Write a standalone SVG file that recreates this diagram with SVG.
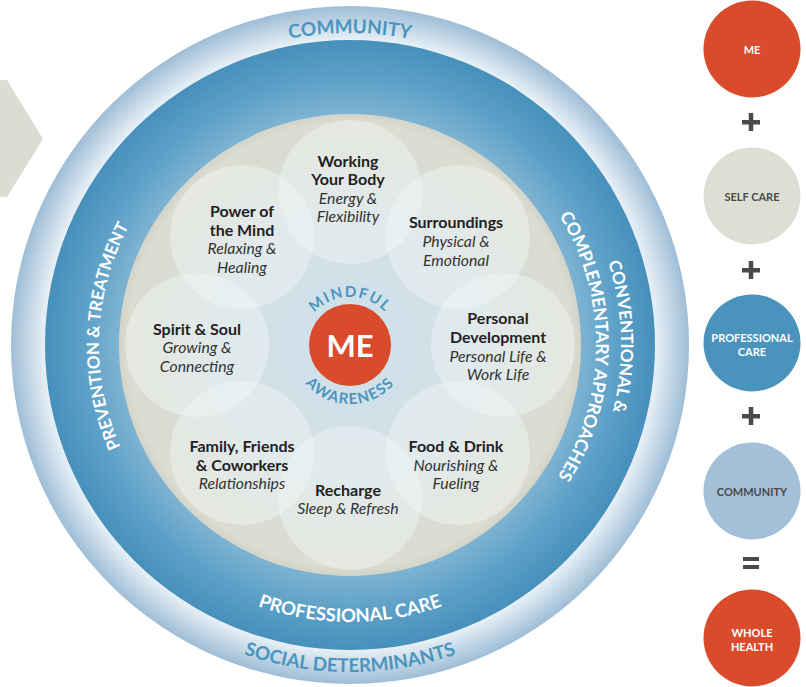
<svg xmlns="http://www.w3.org/2000/svg" width="806" height="687" viewBox="0 0 806 687">
<style>
  .t { font-family: Lato, "Noto Sans", "Liberation Sans", sans-serif; }
  .ttl { font-family: Lato, "Noto Sans", "Liberation Sans", sans-serif; font-weight: 700; font-size: 16px; fill: #222; text-anchor: middle; }
  .sub { font-family: Lato, "Noto Sans", "Liberation Sans", sans-serif; font-style: italic; font-size: 15.8px; fill: #333; text-anchor: middle; }
  .bub { fill: #f4f8f9; fill-opacity: 0.42; }
  .ringW { font-family: Lato, "Noto Sans", "Liberation Sans", sans-serif; font-weight: 700; fill: #ffffff; }
  .ringB { font-family: Lato, "Noto Sans", "Liberation Sans", sans-serif; font-weight: 700; fill: #4a95bf; }
  .side { font-family: Lato, "Noto Sans", "Liberation Sans", sans-serif; font-weight: 700; font-size: 11px; text-anchor: middle; }
  .op { fill: #4a4a4a; }
</style>
<defs>
  <radialGradient id="gOuter" gradientUnits="userSpaceOnUse" cx="350" cy="345" r="339">
    <stop offset="0.9" stop-color="#e8f0f6"/>
    <stop offset="1" stop-color="#9ebdd6"/>
  </radialGradient>
  <radialGradient id="gDark" gradientUnits="userSpaceOnUse" cx="350" cy="345" r="305">
    <stop offset="0.757" stop-color="#7db3d2"/>
    <stop offset="0.87" stop-color="#5ea1c8"/>
    <stop offset="1" stop-color="#4690bb"/>
  </radialGradient>
  <radialGradient id="gBeige" gradientUnits="userSpaceOnUse" cx="350" cy="345" r="231">
    <stop offset="0" stop-color="#cfe1eb"/>
    <stop offset="0.5" stop-color="#d3e0e6"/>
    <stop offset="0.85" stop-color="#d9dcd3"/>
    <stop offset="0.96" stop-color="#dcdcd0"/>
    <stop offset="1" stop-color="#d3d4c9"/>
  </radialGradient>
  <path id="pCommunity" d="M 38,345 A 312,312 0 0 1 662,345 A 312,312 0 0 1 38,345"/>
  <path id="pSocial" d="M 23,345 A 327,327 0 0 0 677,345"/>
  <path id="pProf" d="M 73,345 A 277,277 0 0 0 627,345"/>
  <path id="pPrev" d="M 350,596 A 251,251 0 0 1 350,94 A 251,251 0 0 1 350,596"/>
  <path id="pConv" d="M 79,345 A 271,271 0 0 1 621,345 A 271,271 0 0 1 79,345"/>
  <path id="pComp" d="M 104,345 A 246,246 0 0 1 596,345 A 246,246 0 0 1 104,345"/>
  <path id="pMind" d="M 302,345 A 48,48 0 0 1 398,345"/>
  <path id="pAware" d="M 291,345 A 59,59 0 0 0 409,345"/>
</defs>

<g id="chevron">
  <polygon points="0,80 7,80 43,139 7,197 0,197" fill="#dcdcd2"/>
</g>

<g id="rings">
  <circle cx="350" cy="345" r="339" fill="url(#gOuter)"/>
  <circle cx="350" cy="345" r="305" fill="url(#gDark)"/>
  <circle cx="350" cy="345" r="231" fill="url(#gBeige)"/>
</g>

<g id="ring-labels">
  <text class="ringB" font-size="19"><textPath href="#pCommunity" startOffset="25%" text-anchor="middle">COMMUNITY</textPath></text>
  <text class="ringB" font-size="18.8"><textPath href="#pSocial" startOffset="50%" text-anchor="middle">SOCIAL DETERMINANTS</textPath></text>
  <text class="ringW" font-size="18.5"><textPath href="#pProf" startOffset="50%" text-anchor="middle">PROFESSIONAL CARE</textPath></text>
  <text class="ringW" font-size="17"><textPath href="#pPrev" startOffset="25.6%" text-anchor="middle">PREVENTION &amp; TREATMENT</textPath></text>
  <text class="ringW" font-size="17"><textPath href="#pConv" startOffset="49.5%" text-anchor="middle">CONVENTIONAL &amp;</textPath></text>
  <text class="ringW" font-size="17.6"><textPath href="#pComp" startOffset="50.1%" text-anchor="middle">COMPLEMENTARY APPROACHES</textPath></text>
</g>

<g id="bubbles">
  <circle class="bub" cx="350" cy="192" r="72"/>
  <circle class="bub" cx="458" cy="237" r="72"/>
  <circle class="bub" cx="503" cy="345" r="72"/>
  <circle class="bub" cx="458" cy="453" r="72"/>
  <circle class="bub" cx="350" cy="498" r="72"/>
  <circle class="bub" cx="242" cy="453" r="72"/>
  <circle class="bub" cx="197" cy="345" r="72"/>
  <circle class="bub" cx="242" cy="237" r="72"/>
</g>

<g id="node-working-your-body">
  <text class="ttl" x="348" y="167">Working</text>
  <text class="ttl" x="348" y="185">Your Body</text>
  <text class="sub" x="348" y="204">Energy &amp;</text>
  <text class="sub" x="348" y="222">Flexibility</text>
</g>
<g id="node-surroundings">
  <text class="ttl" x="456" y="228">Surroundings</text>
  <text class="sub" x="456" y="247">Physical &amp;</text>
  <text class="sub" x="456" y="266">Emotional</text>
</g>
<g id="node-personal-development">
  <text class="ttl" x="498" y="324">Personal</text>
  <text class="ttl" x="498" y="343">Development</text>
  <text class="sub" x="498" y="362">Personal Life &amp;</text>
  <text class="sub" x="498" y="380">Work Life</text>
</g>
<g id="node-food-drink">
  <text class="ttl" x="456" y="452">Food &amp; Drink</text>
  <text class="sub" x="456" y="471">Nourishing &amp;</text>
  <text class="sub" x="456" y="489">Fueling</text>
</g>
<g id="node-recharge">
  <text class="ttl" x="348" y="496">Recharge</text>
  <text class="sub" x="348" y="514">Sleep &amp; Refresh</text>
</g>
<g id="node-family">
  <text class="ttl" x="242" y="452">Family, Friends</text>
  <text class="ttl" x="242" y="471">&amp; Coworkers</text>
  <text class="sub" x="242" y="489">Relationships</text>
</g>
<g id="node-spirit-soul">
  <text class="ttl" x="197" y="335">Spirit &amp; Soul</text>
  <text class="sub" x="197" y="353">Growing &amp;</text>
  <text class="sub" x="197" y="372">Connecting</text>
</g>
<g id="node-power-of-mind">
  <text class="ttl" x="242" y="217">Power of</text>
  <text class="ttl" x="242" y="236">the Mind</text>
  <text class="sub" x="242" y="254">Relaxing &amp;</text>
  <text class="sub" x="242" y="273">Healing</text>
</g>

<g id="node-me-center">
  <circle cx="350" cy="345" r="41" fill="#da4b2b"/>
  <text class="t" x="350" y="357" font-size="31" font-weight="700" fill="#ffffff" text-anchor="middle">ME</text>
  <text class="ringB" font-size="15" letter-spacing="1.6"><textPath href="#pMind" startOffset="50%" text-anchor="middle">MINDFUL</textPath></text>
  <text class="ringB" font-size="15" letter-spacing="1.3"><textPath href="#pAware" startOffset="50%" text-anchor="middle">AWARENESS</textPath></text>
</g>

<g id="node-me">
  <circle cx="752" cy="49" r="48.5" fill="#da4b2b"/>
  <text class="side" x="752" y="54" fill="#ffffff">ME</text>
</g>
<g id="node-self-care">
  <circle cx="752" cy="196" r="48.5" fill="#dedfd4"/>
  <text class="side" x="752" y="201" fill="#4a4a4a">SELF CARE</text>
</g>
<g id="node-professional-care">
  <circle cx="752" cy="343" r="48.5" fill="#4a93bd"/>
  <text class="side" x="752" y="342" fill="#ffffff">PROFESSIONAL</text>
  <text class="side" x="752" y="356" fill="#ffffff">CARE</text>
</g>
<g id="node-community">
  <circle cx="752" cy="491" r="48.5" fill="#a4c0d9"/>
  <text class="side" x="752" y="496" fill="#4a4a4a">COMMUNITY</text>
</g>
<g id="node-whole-health">
  <circle cx="752" cy="638" r="48.5" fill="#da4b2b"/>
  <text class="side" x="752" y="637" fill="#ffffff">WHOLE</text>
  <text class="side" x="752" y="651" fill="#ffffff">HEALTH</text>
</g>

<g id="connectors">
  <rect class="op" x="742" y="120" width="18" height="4.5"/>
  <rect class="op" x="748.75" y="113" width="4.5" height="18"/>
  <rect class="op" x="742" y="268" width="18" height="4.5"/>
  <rect class="op" x="748.75" y="261" width="4.5" height="18"/>
  <rect class="op" x="742" y="414" width="18" height="4.5"/>
  <rect class="op" x="748.75" y="407" width="4.5" height="18"/>
  <rect class="op" x="743" y="557" width="16" height="4"/>
  <rect class="op" x="743" y="565" width="16" height="4"/>
</g>
</svg>
